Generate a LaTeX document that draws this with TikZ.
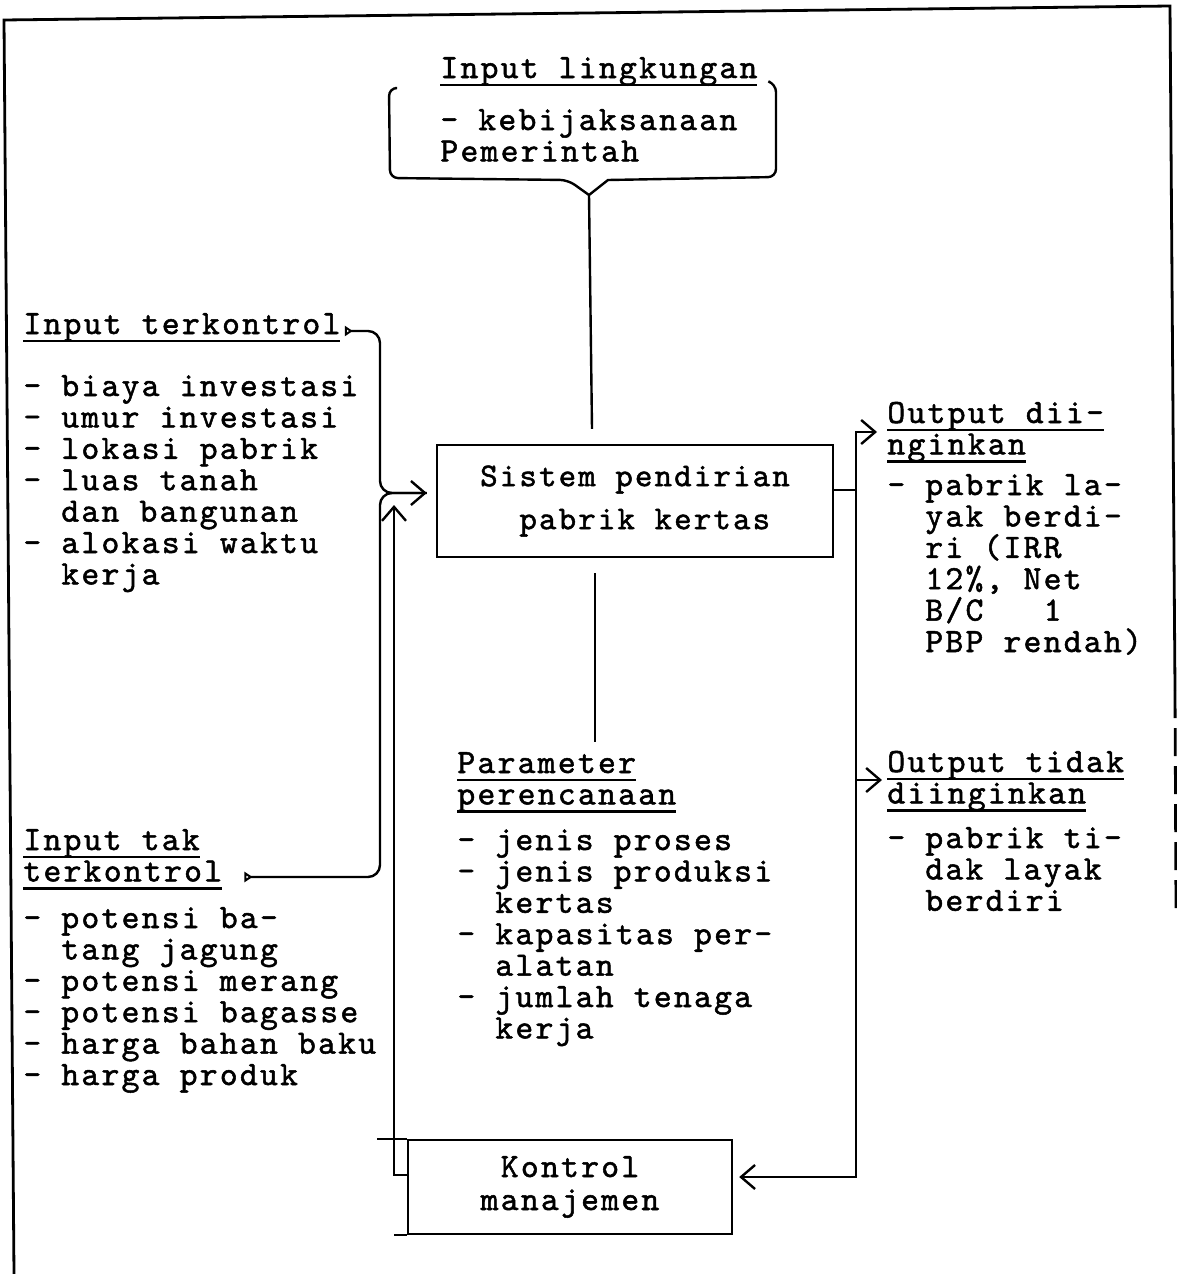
\documentclass[tikz,border=0pt]{standalone}
\usepackage{fontspec}
\usetikzlibrary{arrows.meta,calc}
\newfontfamily\tw[FakeBold=1.5,LetterSpace=6.6]{lmmono10-regular.otf}
\newcommand\ulx[1]{\setbox0\hbox{#1}\rlap{\rule[-4.2pt]{\wd0}{1.4pt}}\box0}
\newcommand\ind{\hphantom{-\ }}
\newcommand\blk[1]{\vtop{\baselineskip=15.7pt\lineskiplimit=-50pt\lineskip=0pt\halign{##\hfil\cr#1\crcr}}}
\begin{document}
\begin{tikzpicture}[x=0.5pt,y=-0.5pt,
  txt/.style={anchor=base west,inner sep=0pt,font=\tw\fontsize{17pt}{15.7pt}\selectfont},
  boxnode/.style={draw,line width=1.2pt,inner sep=0pt,align=center},
  conn/.style={line width=1.2pt},
  frame/.style={line width=1.4pt},
  barb/.tip={Straight Barb[length=7pt,width=12pt,line width=1.2pt]},
  tailt/.tip={Triangle[open,reversed,length=4pt,width=5pt,line width=1pt]}]
\useasboundingbox (0,0) rectangle (1177,1274);
% outer frame
\draw[frame] (14,1274) -- (4,20) -- (1170,6) -- (1175,690);
\draw[frame,dash pattern=on 14pt off 5pt] (1175,690) -- (1176,910);

% Input lingkungan
\node[txt] (ilk) at (440,78) {\blk{\ulx{Input lingkungan}}};
\node[txt] (ilklist) at (440,130) {\blk{- kebijaksanaan\cr Pemerintah}};
\draw[conn,rounded corners=4pt] (395,88) -- (389,88) -- (390,178) -- (568,180) [sharp corners] -- (589,195) -- (608,180) [rounded corners=4pt] -- (776,177) -- (776,84) -- (770,82);
\coordinate (brtip) at (589,195);

% main system box
\node[boxnode,minimum width=198pt,minimum height=56pt,
      font=\tw\fontsize{16.6pt}{21.5pt}\selectfont] (sys) at (635,501)
      {Sistem pendirian\\\ pabrik kertas};

% Input terkontrol
\node[txt] (itk) at (23,334) {\blk{\ulx{Input terkontrol}}};
\node[txt] (itklist) at (23,396) {\blk{- biaya investasi\cr
- umur investasi\cr
- lokasi pabrik\cr
- luas tanah\cr
\ind dan bangunan\cr
- alokasi waktu\cr
\ind kerja}};

% Input tak terkontrol
\node[txt] (ittk) at (23,850) {\blk{\ulx{Input tak}\cr\ulx{terkontrol}}};
\node[txt] (ittklist) at (23,928) {\blk{- potensi ba-\cr
\ind tang jagung\cr
- potensi merang\cr
- potensi bagasse\cr
- harga bahan baku\cr
- harga produk}};

% Parameter perencanaan
\node[txt] (par) at (457,773) {\blk{\ulx{Parameter}\cr\ulx{perencanaan}}};
\node[txt] (parlist) at (457,850) {\blk{- jenis proses\cr
- jenis produksi\cr
\ind kertas\cr
- kapasitas per-\cr
\ind alatan\cr
- jumlah tenaga\cr
\ind kerja}};

% Output diinginkan
\node[txt] (odi) at (887,423) {\blk{\ulx{Output dii-}\cr\ulx{nginkan}}};
\node[txt] (odilist) at (887,495) {\blk{- pabrik la-\cr
\ind yak berdi-\cr
\ind ri (IRR\cr
\ind 12\%, Net\cr
\ind B/C\ \ \ 1\cr
\ind PBP rendah)}};

% Output tidak diinginkan
\node[txt] (otd) at (887,772) {\blk{\ulx{Output tidak}\cr\ulx{diinginkan}}};
\node[txt] (otdlist) at (887,848) {\blk{- pabrik ti-\cr
\ind dak layak\cr
\ind berdiri}};

% Kontrol manajemen
\node[boxnode,minimum width=162pt,minimum height=47pt,
      font=\tw\fontsize{17pt}{16.5pt}\selectfont] (kon) at (570,1187)
      {Kontrol\\manajemen};
\draw[conn] (kon.north west) -- ++(-30,0);
\draw[conn] (kon.south west) -- ++(-13,0);

% connectors into the system
\coordinate (in1) at ($(sys.west)+(-9,-8)$);
\draw[conn,tailt-barb,rounded corners=6pt] ([shift={(4,-3)}]itk.base east) -- (380,331) -- (380,493) -- (in1);
\draw[conn,tailt-,rounded corners=6pt] ([shift={(22,27)}]ittk.base east) -- (380,877) -- (380,493) -- (in1);
\draw[conn,-barb] ($(kon.west)+(0,-12)$) -- (394,1175) -- (394,505);

% environment input and parameters
\draw[conn] (brtip) -- ($(sys.north)+(-43,-15)$);
\draw[conn] ($(sys.south)+(-40,15)$) -- ($(par.base west)+(138,-31)$);

% outputs
\coordinate (j1) at (856,490);
\coordinate (j2) at (856,780);
\draw[conn] ($(sys.east)+(0,-11)$) -- (j1);
\draw[conn,-barb] (j1) -- (856,432) -- ($(odi.base west)+(-10,9)$);
\draw[conn,-barb] (j1) -- (j2) -- ($(otd.base west)+(-5,8)$);
\draw[conn,-barb] (j2) -- (856,1177) -- ($(kon.east)+(6,-10)$);
\end{tikzpicture}
\end{document}
